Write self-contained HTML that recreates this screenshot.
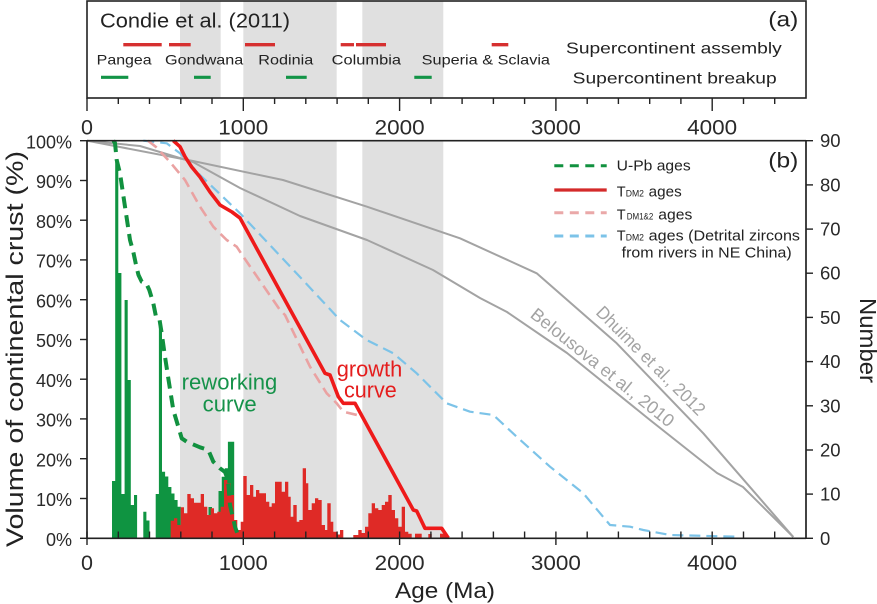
<!DOCTYPE html>
<html><head><meta charset="utf-8"><style>
html,body{margin:0;padding:0;background:#fff;}
svg{display:block;}
text{font-family:"Liberation Sans",Arial,sans-serif;}
</style></head><body>
<svg width="877" height="604" viewBox="0 0 877 604" xmlns="http://www.w3.org/2000/svg">
<!-- gray bands -->
<g fill="#e0e0e0">
<rect x="180" y="1" width="40.7" height="97"/>
<rect x="243.3" y="1" width="93.4" height="97"/>
<rect x="362.3" y="1" width="81" height="97"/>
<rect x="180" y="140.7" width="40.7" height="397.6"/>
<rect x="243.3" y="140.7" width="93.4" height="397.6"/>
<rect x="362.3" y="140.7" width="81" height="397.6"/>
</g>

<!-- panel a frame -->
<rect x="87" y="1" width="719" height="97" fill="none" stroke="#222" stroke-width="1.6"/>
<g stroke="#222" stroke-width="1.4">
<line x1="87" y1="98" x2="87" y2="111"/>
<line x1="243.3" y1="98" x2="243.3" y2="111"/>
<line x1="399.6" y1="98" x2="399.6" y2="111"/>
<line x1="555.9" y1="98" x2="555.9" y2="111"/>
<line x1="712.2" y1="98" x2="712.2" y2="111"/>
<line x1="118.3" y1="98" x2="118.3" y2="104"/>
<line x1="149.5" y1="98" x2="149.5" y2="104"/>
<line x1="180.8" y1="98" x2="180.8" y2="104"/>
<line x1="212" y1="98" x2="212" y2="104"/>
<line x1="274.6" y1="98" x2="274.6" y2="104"/>
<line x1="305.8" y1="98" x2="305.8" y2="104"/>
<line x1="337.1" y1="98" x2="337.1" y2="104"/>
<line x1="368.3" y1="98" x2="368.3" y2="104"/>
<line x1="430.9" y1="98" x2="430.9" y2="104"/>
<line x1="462.1" y1="98" x2="462.1" y2="104"/>
<line x1="493.4" y1="98" x2="493.4" y2="104"/>
<line x1="524.6" y1="98" x2="524.6" y2="104"/>
<line x1="587.2" y1="98" x2="587.2" y2="104"/>
<line x1="618.4" y1="98" x2="618.4" y2="104"/>
<line x1="649.7" y1="98" x2="649.7" y2="104"/>
<line x1="680.9" y1="98" x2="680.9" y2="104"/>
<line x1="743.5" y1="98" x2="743.5" y2="104"/>
<line x1="774.7" y1="98" x2="774.7" y2="104"/>
</g>
<g font-size="21.5" fill="#2a2a2a" text-anchor="middle">
<text x="87" y="134.5">0</text>
<text x="243.3" y="134.5" textLength="50" lengthAdjust="spacingAndGlyphs">1000</text>
<text x="399.6" y="134.5" textLength="50" lengthAdjust="spacingAndGlyphs">2000</text>
<text x="555.9" y="134.5" textLength="50" lengthAdjust="spacingAndGlyphs">3000</text>
<text x="712.2" y="134.5" textLength="50" lengthAdjust="spacingAndGlyphs">4000</text>
</g>

<!-- panel a content -->
<text x="100" y="27.3" font-size="20" fill="#222" textLength="190" lengthAdjust="spacingAndGlyphs">Condie et al. (2011)</text>
<text x="768.3" y="26.5" font-size="21" fill="#222" textLength="30" lengthAdjust="spacingAndGlyphs">(a)</text>
<g stroke="#d63030" stroke-width="3.3">
<line x1="123.3" y1="44.7" x2="161.7" y2="44.7"/>
<line x1="169" y1="44.7" x2="190.7" y2="44.7"/>
<line x1="245" y1="44.7" x2="275" y2="44.7"/>
<line x1="340.7" y1="44.7" x2="354" y2="44.7"/>
<line x1="356" y1="44.7" x2="386" y2="44.7"/>
<line x1="491.7" y1="44.7" x2="508.3" y2="44.7"/>
</g>
<g stroke="#139447" stroke-width="3.2">
<line x1="101" y1="77.3" x2="128.3" y2="77.3"/>
<line x1="194" y1="77.3" x2="210.7" y2="77.3"/>
<line x1="286" y1="77.3" x2="306.7" y2="77.3"/>
<line x1="414.3" y1="77.3" x2="431.7" y2="77.3"/>
</g>
<g font-size="14" fill="#222">
<text x="96.7" y="64.3" textLength="55" lengthAdjust="spacingAndGlyphs">Pangea</text>
<text x="165" y="64.3" textLength="78.3" lengthAdjust="spacingAndGlyphs">Gondwana</text>
<text x="258.3" y="64.3" textLength="55" lengthAdjust="spacingAndGlyphs">Rodinia</text>
<text x="331.7" y="64.3" textLength="69.3" lengthAdjust="spacingAndGlyphs">Columbia</text>
<text x="421.7" y="64.3" textLength="128.3" lengthAdjust="spacingAndGlyphs">Superia &amp; Sclavia</text>
</g>
<g font-size="16" fill="#222">
<text x="566" y="53.3" textLength="215.7" lengthAdjust="spacingAndGlyphs">Supercontinent assembly</text>
<text x="572.7" y="83.5" textLength="204" lengthAdjust="spacingAndGlyphs">Supercontinent breakup</text>
</g>

<!-- histogram green -->
<g fill="#0f9441">
<path d="M112 538.3V481H115.2V161.7H118.3V273H121.4V494H124.6V300H127.7V380H130.8V505H134V495H137.1V538.3Z"/>
<path d="M143.3 538.3V511.7H146.4V520.5H149.5V538.3Z"/>
<path d="M155.7 538.3V494H158.9V326.7H162V471.7H165.1V476.5H168.3V487H171.4V493.5H174.5V500H177.6V506.7H180.8V538.3Z"/>
<path d="M208.5 538.3V507H212V538.3Z"/>
<path d="M218.5 538.3V491H221.7V476.7H224.8V468.3H227.9V441.7H234.2V538.3Z"/>
</g>
<!-- histogram red -->
<g fill="#df2a26">
<path d="M170.7 538.3V520.7H174V518.3H177.3V525H180.7V507.3H184V513.3H187.3V494H190.7V498.3H194V502.7H200.7V494H204V506.7H207.3V515H210.7V508.3H214V513.3H217.3V511.7H220.7V506.7H224V480H227.3V483.3H230.7V495H234V520H237.3V530H240.7V521.7H243.3V476H246.7V495H250V485H253.3V496.7H256V490H259.3V493.3H266V501.7H269.3V506.7H271.7V503.3H275V481.7H281.7V491.7H285V481.7H288.3V496.7H290.7V516.7H293.3V505H296.7V521.7H299.3V520H302.7V468.3H306V483.3H308.3V510H311.7V503.3H315V498.3H318.3V500H321.7V525H325V530H327.3V503.3H330.7V521.7H333.3V531.7H336.7V534.5H340V530H343.3V538.3Z"/>
<path d="M353.3 538.3V535H358.3V530H361.7V533H365V526.7H368.3V513.3H371.7V503.3H375V508.3H378.3V510H381.7V505H385V501.7H388.3V495H391.7V510H395V518.3H398.3V526.7H401.7V506.7H405V531.7H408.3V533.7H411.7V538.3Z"/>
<rect x="415" y="533.7" width="6.7" height="4.6"/>
<rect x="428.3" y="534" width="3.4" height="4.3"/>
<rect x="440" y="533.7" width="6.7" height="4.6"/>
</g>

<!-- gray model curves -->
<g fill="none" stroke="#a3a3a3" stroke-width="2" stroke-linejoin="round">
<polyline points="87,140.7 193,161 283,180 367,206.7 460,238.3 536.7,273.3 616.7,343.3 703.3,433.3 793.3,537"/>
<polyline points="87,140.7 140,146 193,162 240,188 300,216 367,240 433,270 480,298 507,312 567,353 650,420 717,473 743,487 793.3,537"/>
</g>
<!-- blue dashed -->
<polyline fill="none" stroke="#7cc3e8" stroke-width="2.2" stroke-dasharray="11,6" stroke-linejoin="round" points="143.3,140.7 166.7,143.3 180,153.3 200,175 240,213.3 300,277 340,320 366.7,340 393.3,353.3 416.7,373.3 446.7,403.3 470,411.7 493.3,415 516.7,436.7 550,466.7 583.3,493.3 610,525 630,526.7 643.3,530 670,535 736.7,536.7"/>
<!-- pink dashed -->
<polyline fill="none" stroke="#eaa2a2" stroke-width="2.6" stroke-dasharray="11,6" stroke-linejoin="round" points="148,140.7 156,147 170,162 185,180 200,206.7 213.3,226.7 226.7,240 236.7,246.7 243.3,256.7 280,310 285,315 310,366.7 326.7,393.3 336.7,403.3 343.3,411.7 357,415"/>
<!-- red solid -->
<polyline fill="none" stroke="#ee1a1a" stroke-width="3.6" stroke-linejoin="round" points="173.3,140.7 180,146.7 185,156.7 191.7,167 200,177 210,192 220,205 232,212 240,218 325,373.3 330,375 338.3,396.7 343.3,403.3 355,403.3 373.3,436.7 413.3,510 416.7,511 425,528.3 441.7,528.3 448.3,538"/>
<!-- green dashed -->
<polyline fill="none" stroke="#11913f" stroke-width="4" stroke-dasharray="12,7" stroke-linejoin="round" points="113.3,140.7 115,143 116.7,160 120,173.3 125,206.7 130,240 133.3,252 136.7,268 138.5,275 141.7,281.7 146.2,283.3 149.3,290 153.3,303.3 156,316.7 159.3,318.3 161.7,333.3 165,356.7 168.3,378.3 173.3,410 178.3,426.7 181.7,438.3 186.7,441.7 200,447.3 208.3,450 213.3,461.7 220,468.3 225,472 228,480 230,505 235,526.7 239,538"/>

<!-- panel b frame -->
<g stroke="#222" stroke-width="1.7" fill="none">
<line x1="87" y1="140.7" x2="806" y2="140.7"/>
<line x1="87" y1="140.7" x2="87" y2="538.3"/>
<line x1="806" y1="140.7" x2="806" y2="538.3"/>
<line x1="87" y1="538.3" x2="806" y2="538.3"/>
</g>
<!-- left ticks -->
<g stroke="#222" stroke-width="1.4">
<line x1="80" y1="140.7" x2="87" y2="140.7"/>
<line x1="80" y1="180.5" x2="87" y2="180.5"/>
<line x1="80" y1="220.2" x2="87" y2="220.2"/>
<line x1="80" y1="259.9" x2="87" y2="259.9"/>
<line x1="80" y1="299.7" x2="87" y2="299.7"/>
<line x1="80" y1="339.5" x2="87" y2="339.5"/>
<line x1="80" y1="379.2" x2="87" y2="379.2"/>
<line x1="80" y1="418.9" x2="87" y2="418.9"/>
<line x1="80" y1="458.7" x2="87" y2="458.7"/>
<line x1="80" y1="498.5" x2="87" y2="498.5"/>
<line x1="80" y1="538.3" x2="87" y2="538.3"/>
<!-- right ticks -->
<line x1="806" y1="140.7" x2="813" y2="140.7"/>
<line x1="806" y1="184.9" x2="813" y2="184.9"/>
<line x1="806" y1="229.1" x2="813" y2="229.1"/>
<line x1="806" y1="273.2" x2="813" y2="273.2"/>
<line x1="806" y1="317.4" x2="813" y2="317.4"/>
<line x1="806" y1="361.6" x2="813" y2="361.6"/>
<line x1="806" y1="405.8" x2="813" y2="405.8"/>
<line x1="806" y1="450" x2="813" y2="450"/>
<line x1="806" y1="494.1" x2="813" y2="494.1"/>
<line x1="806" y1="538.3" x2="813" y2="538.3"/>
<!-- bottom ticks -->
<line x1="87" y1="531.5" x2="87" y2="545"/>
<line x1="243.3" y1="531.5" x2="243.3" y2="545"/>
<line x1="399.6" y1="531.5" x2="399.6" y2="545"/>
<line x1="555.9" y1="531.5" x2="555.9" y2="545"/>
<line x1="712.2" y1="531.5" x2="712.2" y2="545"/>
<line x1="118.3" y1="531.5" x2="118.3" y2="538.3"/>
<line x1="149.5" y1="531.5" x2="149.5" y2="538.3"/>
<line x1="180.8" y1="531.5" x2="180.8" y2="538.3"/>
<line x1="212" y1="531.5" x2="212" y2="538.3"/>
<line x1="274.6" y1="531.5" x2="274.6" y2="538.3"/>
<line x1="305.8" y1="531.5" x2="305.8" y2="538.3"/>
<line x1="337.1" y1="531.5" x2="337.1" y2="538.3"/>
<line x1="368.3" y1="531.5" x2="368.3" y2="538.3"/>
<line x1="430.9" y1="531.5" x2="430.9" y2="538.3"/>
<line x1="462.1" y1="531.5" x2="462.1" y2="538.3"/>
<line x1="493.4" y1="531.5" x2="493.4" y2="538.3"/>
<line x1="524.6" y1="531.5" x2="524.6" y2="538.3"/>
<line x1="587.2" y1="531.5" x2="587.2" y2="538.3"/>
<line x1="618.4" y1="531.5" x2="618.4" y2="538.3"/>
<line x1="649.7" y1="531.5" x2="649.7" y2="538.3"/>
<line x1="680.9" y1="531.5" x2="680.9" y2="538.3"/>
<line x1="743.5" y1="531.5" x2="743.5" y2="538.3"/>
<line x1="774.7" y1="531.5" x2="774.7" y2="538.3"/>
</g>
<!-- left labels -->
<g font-size="18" fill="#2a2a2a" text-anchor="end">
<text x="72" y="148.3">100%</text>
<text x="72" y="188.1">90%</text>
<text x="72" y="227.8">80%</text>
<text x="72" y="267.5">70%</text>
<text x="72" y="307.3">60%</text>
<text x="72" y="347.1">50%</text>
<text x="72" y="386.8">40%</text>
<text x="72" y="426.5">30%</text>
<text x="72" y="466.3">20%</text>
<text x="72" y="506.1">10%</text>
<text x="72" y="545.9">0%</text>
</g>
<!-- right labels -->
<g font-size="18.5" fill="#2a2a2a">
<text x="820" y="147.2">90</text>
<text x="820" y="191.4">80</text>
<text x="820" y="235.6">70</text>
<text x="820" y="279.7">60</text>
<text x="820" y="323.9">50</text>
<text x="820" y="368.1">40</text>
<text x="820" y="412.3">30</text>
<text x="820" y="456.5">20</text>
<text x="820" y="500.6">10</text>
<text x="820" y="544.8">0</text>
</g>
<!-- bottom labels -->
<g font-size="21.5" fill="#2a2a2a" text-anchor="middle">
<text x="87" y="570">0</text>
<text x="243.3" y="570" textLength="49" lengthAdjust="spacingAndGlyphs">1000</text>
<text x="399.6" y="570" textLength="50" lengthAdjust="spacingAndGlyphs">2000</text>
<text x="555.9" y="570" textLength="50" lengthAdjust="spacingAndGlyphs">3000</text>
<text x="712.2" y="570" textLength="50" lengthAdjust="spacingAndGlyphs">4000</text>
</g>
<text x="395" y="598" font-size="22" fill="#222" textLength="100" lengthAdjust="spacingAndGlyphs">Age (Ma)</text>
<text transform="translate(23,349) rotate(-90)" x="0" y="0" text-anchor="middle" font-size="24" fill="#222" textLength="396" lengthAdjust="spacingAndGlyphs">Volume of continental crust (%)</text>
<text transform="translate(860,340.5) rotate(90)" x="0" y="0" text-anchor="middle" font-size="23" fill="#222" textLength="85" lengthAdjust="spacingAndGlyphs">Number</text>

<!-- (b) and legend -->
<text x="768.3" y="167.5" font-size="21" fill="#222" textLength="30" lengthAdjust="spacingAndGlyphs">(b)</text>
<line x1="554.3" y1="165.7" x2="606.7" y2="165.7" stroke="#11913f" stroke-width="3" stroke-dasharray="9,6.5"/>
<line x1="554.3" y1="190" x2="606.7" y2="190" stroke="#d42a2a" stroke-width="3.2"/>
<line x1="554.3" y1="212.7" x2="606.7" y2="212.7" stroke="#eaa8a8" stroke-width="3" stroke-dasharray="9,6.5"/>
<line x1="554.3" y1="236" x2="606.7" y2="236" stroke="#7cc3e8" stroke-width="3" stroke-dasharray="9,6.5"/>
<g fill="#222">
<text x="616.7" y="170.7" font-size="14.5" textLength="74" lengthAdjust="spacingAndGlyphs">U-Pb ages</text>
<text x="616.7" y="196.5" font-size="14.5">T</text>
<text x="625.7" y="196.5" font-size="9" textLength="18.3" lengthAdjust="spacingAndGlyphs">DM2</text>
<text x="648.7" y="196.5" font-size="14.5" textLength="33" lengthAdjust="spacingAndGlyphs">ages</text>
<text x="616.7" y="219.5" font-size="14.5">T</text>
<text x="626.7" y="219.5" font-size="9" textLength="26.6" lengthAdjust="spacingAndGlyphs">DM1&amp;2</text>
<text x="658.3" y="219.5" font-size="14.5" textLength="34" lengthAdjust="spacingAndGlyphs">ages</text>
<text x="616.7" y="240.7" font-size="14.5">T</text>
<text x="625.7" y="240.7" font-size="9" textLength="18.3" lengthAdjust="spacingAndGlyphs">DM2</text>
<text x="648.7" y="240.7" font-size="14.5" textLength="151.3" lengthAdjust="spacingAndGlyphs">ages (Detrital zircons</text>
<text x="621.7" y="257.3" font-size="14.5" textLength="170" lengthAdjust="spacingAndGlyphs">from rivers in NE China)</text>
</g>

<!-- annotations -->
<g font-size="22" fill="#16924a">
<text x="181.7" y="389.5" textLength="95.6" lengthAdjust="spacingAndGlyphs">reworking</text>
<text x="202.7" y="411.5" textLength="54" lengthAdjust="spacingAndGlyphs">curve</text>
</g>
<g font-size="22" fill="#e51d1d">
<text x="336.7" y="376.5" textLength="65.6" lengthAdjust="spacingAndGlyphs">growth</text>
<text x="344" y="397.3" textLength="52.7" lengthAdjust="spacingAndGlyphs">curve</text>
</g>
<g font-size="18" fill="#a3a3a3">
<text transform="translate(650.8,360.8) rotate(45)" x="0" y="6" text-anchor="middle" textLength="146" lengthAdjust="spacingAndGlyphs">Dhuime et al., 2012</text>
<text transform="translate(602.5,367.5) rotate(38.7)" x="0" y="6" text-anchor="middle" textLength="178" lengthAdjust="spacingAndGlyphs">Belousova et al., 2010</text>
</g>
</svg>
</body></html>
